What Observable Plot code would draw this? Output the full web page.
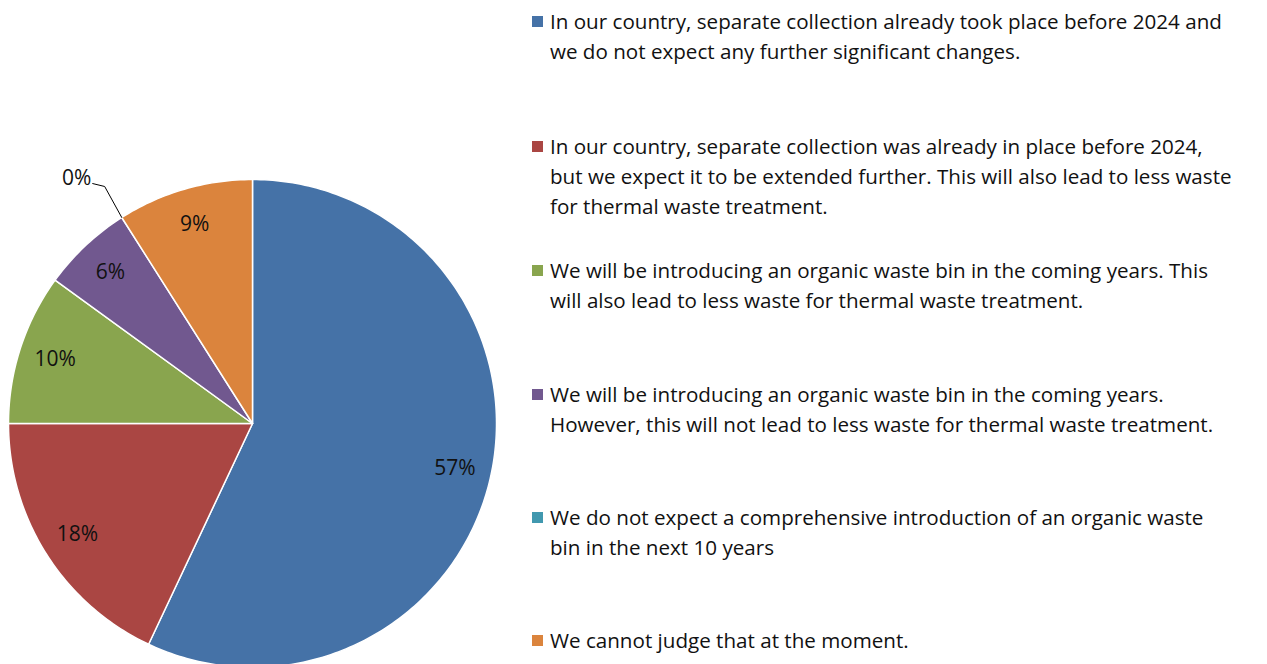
<!DOCTYPE html>
<html>
<head>
<meta charset="utf-8">
<script src="https://cdn.jsdelivr.net/npm/d3@7"></script>
<script src="https://cdn.jsdelivr.net/npm/@observablehq/plot@0.6"></script>
<style>
  body { margin: 0; background: #fff; font-family: "Open Sans", sans-serif; }
  #wrap { position: relative; width: 1267px; height: 664px; overflow: hidden; }
  #legend { position: absolute; left: 532px; top: 0; width: 735px; }
  .item { position: absolute; left: 0; width: 735px; display: flex; font-size: 20.6px; line-height: 30px; color: #111; white-space: pre-line; }
  .sw { width: 11px; height: 11px; flex: none; margin: 10px 7px 0 0; }
</style>
</head>
<body>
<div id="wrap"><div id="chart"></div><div id="legend"></div></div>
<script>
// Answers (legend lines as in the original) and shares (%)
const answers = [
  "In our country, separate collection already took place before 2024 and\nwe do not expect any further significant changes.",
  "In our country, separate collection was already in place before 2024,\nbut we expect it to be extended further. This will also lead to less waste\nfor thermal waste treatment.",
  "We will be introducing an organic waste bin in the coming years. This\nwill also lead to less waste for thermal waste treatment.",
  "We will be introducing an organic waste bin in the coming years.\nHowever, this will not lead to less waste for thermal waste treatment.",
  "We do not expect a comprehensive introduction of an organic waste\nbin in the next 10 years",
  "We cannot judge that at the moment."
];
const shares = [57, 18, 10, 6, 0, 9];
const colors = ["#4572A7", "#AA4643", "#89A54E", "#71588F", "#4198AF", "#DB843D"];
const legendTops = [6, 131, 255, 379, 502, 625];

const arcs = d3.pie().sort(null)(shares);

// slice outlines as polygons in unit coordinates (angle 0 = top, clockwise)
const pts = [];
arcs.forEach((a, i) => {
  if (a.endAngle - a.startAngle <= 0) return;
  pts.push({k: answers[i], x: 0, y: 0});
  const n = Math.max(2, Math.ceil((a.endAngle - a.startAngle) * 60));
  for (let j = 0; j <= n; j++) {
    const t = a.startAngle + (a.endAngle - a.startAngle) * j / n;
    pts.push({k: answers[i], x: Math.sin(t), y: -Math.cos(t)});
  }
  pts.push({k: answers[i], x: 0, y: 0});
});

const labels = arcs.map((a, i) => {
  const m = (a.startAngle + a.endAngle) / 2;
  return {text: shares[i] + "%", zero: shares[i] === 0, x: 0.85 * Math.sin(m), y: -0.85 * Math.cos(m), m};
});
// leader line for zero-size slice
const leaders = [];
labels.filter(d => d.zero).forEach((d, j) => {
  const ex = Math.sin(d.m), ey = -Math.cos(d.m);
  leaders.push({g: j, x: ex, y: ey});
  leaders.push({g: j, x: ex - 0.07, y: ey - 0.127});
  leaders.push({g: j, x: ex - 0.119, y: ey - 0.139});
  d.lx = ex - 0.125; d.ly = ey - 0.16;
});

const chart = Plot.plot({
  width: 1267, height: 664, margin: 0,
  x: {domain: [-1, 1], range: [8, 496], axis: null},
  y: {domain: [-1, 1], range: [179, 667], axis: null},
  color: {domain: answers, range: colors},
  marks: [
    Plot.line(pts, {x: "x", y: "y", z: "k", fill: "k", stroke: "white", strokeWidth: 1.5, curve: "linear"}),
    Plot.line(leaders, {x: "x", y: "y", z: "g", stroke: "black", strokeWidth: 1}),
    Plot.text(labels.filter(d => !d.zero), {x: "x", y: "y", text: "text", fontSize: 21, fill: "#111", fontFamily: "Open Sans"}),
    Plot.text(labels.filter(d => d.zero), {x: "lx", y: "ly", text: "text", fontSize: 21, fill: "#111", textAnchor: "end", fontFamily: "Open Sans"})
  ]
});
document.getElementById("chart").append(chart);

const legend = document.getElementById("legend");
answers.forEach((t, i) => {
  const div = document.createElement("div");
  div.className = "item";
  div.style.top = legendTops[i] + "px";
  div.innerHTML = `<div class="sw" style="background:${colors[i]}"></div><div>${t}</div>`;
  legend.append(div);
});
</script>
</body>
</html>
